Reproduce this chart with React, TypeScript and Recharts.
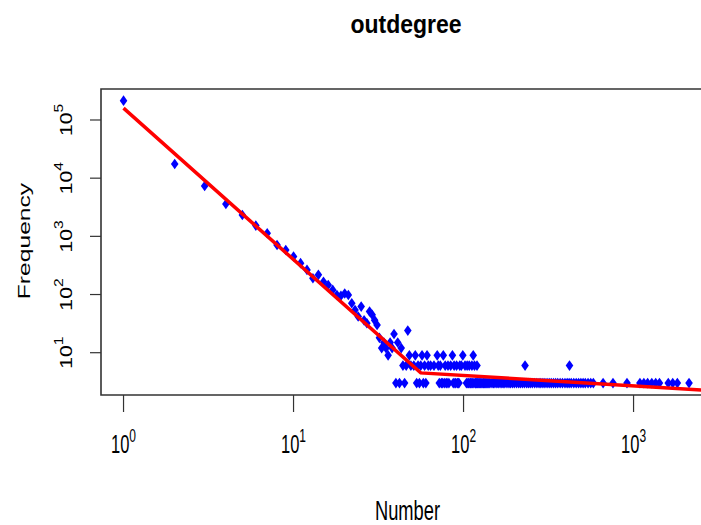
import React from "react";
import { ScatterChart, Scatter, XAxis, YAxis, ReferenceArea } from "recharts";

// Degree distribution (log-log): head of the distribution, one point per degree
const headDegree = [
  1, 2, 3, 4, 5, 6, 7, 8, 9, 10, 11, 12, 13, 14, 15, 16, 17, 18, 19, 20, 21, 22,
  23, 24, 25, 26, 27, 28, 29, 30, 31, 32, 33, 34, 35, 36, 37, 38, 39, 40, 41, 42,
  43, 47,
];
const headFreq = [
  215000, 17500, 7350, 3600, 2330, 1530, 1130, 710, 583, 450, 346, 265, 190, 218,
  166, 146, 120, 98, 95, 104, 98, 71, 54, 42, 62, 36, 32, 51, 45, 36, 30, 18, 12,
  15, 12, 9, 15, 12, 21, 3, 15, 3, 12, 24,
];

// Tail degrees grouped by their (small) frequency
const tailDegreeFreq3 = [
  45, 53, 55, 58, 60, 72, 74, 75, 77, 79, 80, 82, 87, 89, 90, 92, 93, 94, 104,
  106, 107, 109, 110, 111, 113, 115, 117, 118, 119, 121, 122, 124, 126, 128, 130,
  131, 133, 135, 137, 139, 141, 143, 147, 150, 153, 157, 160, 164, 168, 171, 175,
  180, 185, 189, 194, 199, 205, 211, 216, 222, 228, 235, 241, 247, 254, 262, 270,
  278, 285, 293, 301, 310, 319, 328, 338, 348, 358, 370, 382, 395, 407, 418, 430,
  445, 460, 475, 490, 505, 520, 540, 560, 580, 662, 757, 915, 1090, 1150, 1210,
  1280, 1350, 1420, 1600, 1700, 1810, 2120,
];
const tailDegreeFreq6 = [
  44, 46, 49, 51, 54, 56, 59, 62, 64, 67, 71, 73, 78, 81, 84, 88, 91, 95, 97, 102,
  105, 108, 112, 116, 120, 230, 420,
];
const tailDegreeFreq9 = [48, 52, 57, 61, 70, 76, 86, 99, 114];

// Fitted curve (red)
const fitDegree = [1, 56, 2600];
const fitFreq = [160000, 4.5, 2.27];

const xTicks = [1, 10, 100, 1000];
const yTicks = [10, 100, 1000, 10000, 100000];
const xDomain = [0.737, 2704];
const yDomain = [1.875, 341000];

const points = [
  ...headDegree.map((d, i) => ({ x: d, y: headFreq[i] })),
  ...tailDegreeFreq3.map((d) => ({ x: d, y: 3 })),
  ...tailDegreeFreq6.map((d) => ({ x: d, y: 6 })),
  ...tailDegreeFreq9.map((d) => ({ x: d, y: 9 })),
];
const fitLine = fitDegree.map((d, i) => ({ x: d, y: fitFreq[i] }));

const FONT = "'Liberation Sans', Arial, Helvetica, sans-serif";

const Diamond = (props: any) => {
  const { cx, cy } = props;
  if (cx == null || cy == null) return <g />;
  const w = 3.8;
  const h = 5.3;
  return (
    <polygon
      points={`${cx},${cy - h} ${cx + w},${cy} ${cx},${cy + h} ${cx - w},${cy}`}
      fill="#0000FF"
    />
  );
};

const NoShape = () => <g />;

const exponentOf = (v: number) => Math.round(Math.log10(v));

const XTick = (props: any) => {
  const { x, payload } = props;
  return (
    <text
      transform={`translate(${x},453.3) scale(1,1.55)`}
      textAnchor="middle"
      fontFamily={FONT}
      fontSize={16.5}
      fill="#000"
    >
      <tspan>10</tspan>
      <tspan dy={-7.5} fontSize={12}>
        {exponentOf(payload.value)}
      </tspan>
    </text>
  );
};

const YTick = (props: any) => {
  const { y, payload } = props;
  return (
    <text
      transform={`translate(72,${y}) rotate(-90) scale(1.3,1)`}
      textAnchor="middle"
      fontFamily={FONT}
      fontSize={16.3}
      fill="#000"
    >
      <tspan>10</tspan>
      <tspan dy={-9.5} fontSize={12}>
        {exponentOf(payload.value)}
      </tspan>
    </text>
  );
};

export default function App() {
  return (
    <div
      style={{
        position: "absolute",
        left: 0,
        top: 0,
        width: 701,
        height: 525,
        overflow: "hidden",
        background: "#fff",
      }}
    >
      <ScatterChart
        width={720}
        height={525}
        margin={{ top: 89, right: 13, bottom: 0, left: 0 }}
      >
        <XAxis
          dataKey="x"
          type="number"
          scale="log"
          domain={xDomain}
          allowDataOverflow
          ticks={xTicks}
          interval={0}
          height={130}
          tickSize={17}
          tickLine={{ stroke: "#333", strokeWidth: 1.2 }}
          axisLine={false}
          tick={(p: any) => <XTick {...p} />}
        />
        <YAxis
          dataKey="y"
          type="number"
          scale="log"
          domain={yDomain}
          allowDataOverflow
          ticks={yTicks}
          interval={0}
          width={101}
          tickSize={11}
          tickLine={{ stroke: "#333", strokeWidth: 1.2 }}
          axisLine={false}
          tick={(p: any) => <YTick {...p} />}
        />
        <Scatter
          data={points}
          shape={Diamond}
          isAnimationActive={false}
        />
        <Scatter
          data={fitLine}
          line={{ stroke: "#FF0000", strokeWidth: 3.5 }}
          lineType="joint"
          shape={NoShape}
          isAnimationActive={false}
        />
        <ReferenceArea
          x1={xDomain[0]}
          x2={xDomain[1]}
          y1={yDomain[0]}
          y2={yDomain[1]}
          ifOverflow="visible"
          fill="none"
          fillOpacity={0}
          stroke="#333"
          strokeWidth={1.6}
        />
      </ScatterChart>
      <svg
        width={701}
        height={525}
        style={{ position: "absolute", left: 0, top: 0, pointerEvents: "none" }}
      >
        <text
          transform="translate(406,33.3) scale(1,1.1)"
          textAnchor="middle"
          fontFamily={FONT}
          fontWeight="bold"
          fontSize={23}
          fill="#000"
        >
          outdegree
        </text>
        <text
          transform="translate(407.5,520) scale(1,1.53)"
          textAnchor="middle"
          fontFamily={FONT}
          fontSize={18.3}
          fill="#000"
        >
          Number
        </text>
        <text
          transform="translate(30,241) rotate(-90) scale(1.45,1)"
          textAnchor="middle"
          fontFamily={FONT}
          fontSize={17}
          fill="#000"
        >
          Frequency
        </text>
      </svg>
    </div>
  );
}
